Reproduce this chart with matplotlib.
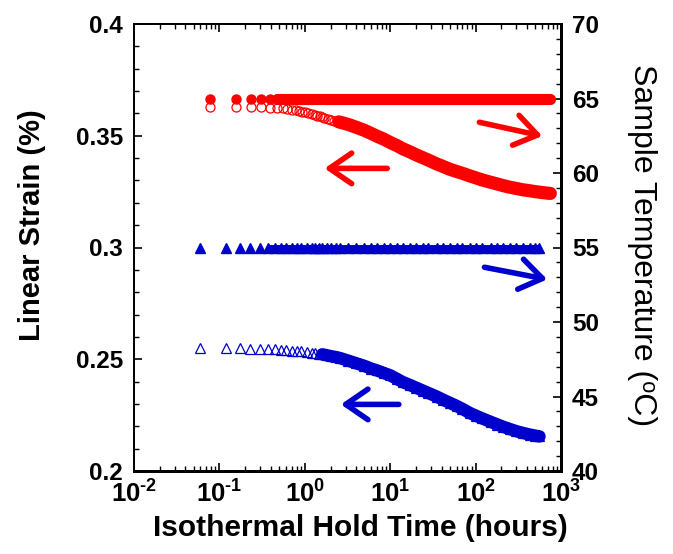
import math
import matplotlib
matplotlib.use("Agg")
import matplotlib.pyplot as plt
from matplotlib.ticker import FixedLocator, MultipleLocator, LogLocator, FuncFormatter, NullFormatter
from matplotlib.patches import FancyArrowPatch

plt.rcParams['font.family'] = ['Liberation Sans', 'DejaVu Sans']
plt.rcParams['mathtext.fontset'] = 'custom'
plt.rcParams['mathtext.rm'] = 'Liberation Sans:bold'
plt.rcParams['mathtext.bf'] = 'Liberation Sans:bold'

# ---- data ----
red_time = [0.078, 0.155, 0.233, 0.31, 0.39, 0.47, 0.55, 0.62, 0.70, 0.78, 0.86, 0.93, 1.0,
            1.1, 1.2, 1.3, 1.4, 1.5, 1.6, 1.7, 1.85, 2.0, 2.2, 2.5, 2.8, 3.0, 3.5, 4.0, 5.0,
            6.0, 7.0, 8.5, 10, 12, 14, 17, 20, 24, 28, 35, 42, 50, 60, 70, 86, 100, 120, 150,
            180, 210, 250, 300, 360, 430, 500, 600, 700, 750]
red_strain = [0.3629, 0.3629, 0.3628, 0.3627, 0.3626, 0.3624, 0.3622, 0.3620, 0.3617, 0.3614,
              0.3611, 0.3608, 0.3605, 0.3601, 0.3598, 0.3594, 0.3590, 0.3587, 0.3583, 0.3580,
              0.3576, 0.3572, 0.3568, 0.3562, 0.3557, 0.3554, 0.3546, 0.3538, 0.3524, 0.3510,
              0.3498, 0.3484, 0.3470, 0.3456, 0.3442, 0.3428, 0.3415, 0.3402, 0.3391, 0.3374,
              0.3362, 0.3350, 0.3340, 0.3332, 0.3320, 0.3312, 0.3302, 0.3292, 0.3284, 0.3277,
              0.3270, 0.3264, 0.3258, 0.3254, 0.3250, 0.3246, 0.3243, 0.3242]
red_temp = [65.0] * len(red_time)

blue_time = [0.059, 0.119, 0.174, 0.228, 0.298, 0.374, 0.45, 0.52, 0.60, 0.70, 0.80, 0.90,
             1.05, 1.2, 1.3, 1.45, 1.6, 1.8, 2.0, 2.3, 2.6, 3.2, 4.0, 5.0, 6.0, 7.0, 8.5, 10,
             12, 14, 17, 20, 24, 28, 35, 42, 50, 60, 70, 86, 100, 120, 150, 180, 210, 250,
             300, 360, 430, 500, 560]
blue_strain = [0.2552, 0.2550, 0.2549, 0.2548, 0.2547, 0.2546, 0.2544, 0.2543, 0.2541, 0.2539,
               0.2537, 0.2535, 0.2533, 0.2530, 0.2528, 0.2525, 0.2522, 0.2518, 0.2514, 0.2510,
               0.2505, 0.2494, 0.2482, 0.2470, 0.2458, 0.2450, 0.2438, 0.2428, 0.2412, 0.2398,
               0.2385, 0.2373, 0.2360, 0.2349, 0.2333, 0.2318, 0.2305, 0.2291, 0.2278, 0.2259,
               0.2248, 0.2235, 0.2220, 0.2208, 0.2198, 0.2188, 0.2178, 0.2170, 0.2163, 0.2158,
               0.2155]
blue_temp = [55.0] * len(blue_time)

x_ticks = [1e-2, 1e-1, 1e0, 1e1, 1e2, 1e3]
y_left_ticks = [0.2, 0.25, 0.3, 0.35, 0.4]
y_left_labels = ['0.2', '0.25', '0.3', '0.35', '0.4']
y_right_ticks = [40, 45, 50, 55, 60, 65, 70]

RED = '#FF0000'
BLUE = '#0000CC'

fig = plt.figure(figsize=(6.73, 5.54), dpi=100)
ax = fig.add_axes([134/673, 1-471/554, 427/673, 447/554])
ax2 = ax.twinx()

ax.set_xscale('log')
ax.set_xlim(1e-2, 1e3)
ax.set_ylim(0.2, 0.4)
ax2.set_ylim(40, 70)

# bands where measurement points overlap densely
r0 = red_time.index(2.5)
b0 = blue_time.index(1.6)
ax.plot(red_time[r0:], red_strain[r0:], color=RED, lw=9.5, solid_capstyle='round', zorder=2)
ax.plot(blue_time[b0:], blue_strain[b0:], color=BLUE, lw=9, solid_capstyle='round', zorder=2)
ax.plot(red_time, red_strain, ls='none', marker='o', ms=6.5, mfc='none', mec=RED, mew=0.9, zorder=3)
ax.plot(blue_time, blue_strain, ls='none', marker='^', ms=7, mfc='none', mec=BLUE, mew=0.9, zorder=3)

rf0 = red_time.index(0.47)
bf0 = blue_time.index(0.374)
ax2.plot(red_time[rf0:], red_temp[rf0:], color=RED, lw=8, solid_capstyle='round', zorder=2)
ax2.plot(blue_time[bf0:], blue_temp[bf0:], color=BLUE, lw=5, solid_capstyle='butt', zorder=2)
ax2.plot(red_time, red_temp, ls='none', marker='o', ms=6.5, mfc=RED, mec=RED, zorder=3)
ax2.plot(blue_time, blue_temp, ls='none', marker='^', ms=7, mfc=BLUE, mec=BLUE, zorder=3)

# ticks
def xfmt(v, pos):
    e = int(round(math.log10(v)))
    s = ('\u2010%d' % -e) if e < 0 else '%d' % e
    return r'$\mathbf{10^{%s}}$' % s

ax.xaxis.set_major_locator(FixedLocator(x_ticks))
ax.xaxis.set_minor_locator(LogLocator(base=10, subs=range(2, 10), numticks=20))
ax.xaxis.set_major_formatter(FuncFormatter(xfmt))
ax.xaxis.set_minor_formatter(NullFormatter())
ax.set_yticks(y_left_ticks)
ax.set_yticklabels(y_left_labels)
ax.yaxis.set_minor_locator(MultipleLocator(0.01))
ax2.set_yticks(y_right_ticks)
ax2.yaxis.set_minor_locator(MultipleLocator(1))

ax.tick_params(axis='x', which='both', direction='in', top=True, bottom=True, pad=7)
ax.tick_params(axis='x', which='major', labelsize=18.5)
ax.tick_params(axis='y', which='both', direction='in', left=True, right=False, pad=8)
ax.tick_params(axis='y', which='major', labelsize=17.5)
ax.tick_params(which='major', length=6, width=1.2)
ax.tick_params(which='minor', length=3.5, width=1.0)
ax2.tick_params(axis='y', which='both', direction='in', right=True, pad=8)
ax2.tick_params(which='major', length=6, width=1.2, labelsize=17.5)
ax2.tick_params(which='minor', length=3.5, width=1.0)
for lab in ax.get_yticklabels() + ax2.get_yticklabels():
    lab.set_fontweight('bold')

for sp in ['left', 'top']:
    ax.spines[sp].set_linewidth(1.3)
for sp in ['right', 'bottom']:
    ax.spines[sp].set_linewidth(2.0)
    ax2.spines[sp].set_linewidth(2.0)
ax2.spines['left'].set_linewidth(1.3)
ax2.spines['top'].set_linewidth(1.3)

ax.set_xlabel('Isothermal Hold Time (hours)', fontsize=21.5, fontweight='bold')
ax.xaxis.label.set_va('center')
ax.xaxis.set_label_coords(0.529, -0.1275)
ax.set_ylabel('Linear Strain (%)', fontsize=21, fontweight='bold', va='center')
ax.yaxis.set_label_coords(-0.239, 0.55)
ax2.set_ylabel('Sample Temperature (\u1d52C)', fontsize=23, rotation=270, va='center')
ax2.yaxis.set_label_coords(1.19, 0.506)

# arrows (annotations)
def arrow(x0, y0, x1, y1, color):
    a = FancyArrowPatch((x0, y0), (x1, y1), transform=ax.transData,
                        arrowstyle='->,head_length=0.8,head_width=0.55', mutation_scale=20,
                        color=color, lw=4, capstyle='round', joinstyle='round', zorder=5)
    ax.add_patch(a)

arrow(103, 0.3563, 650, 0.3496, RED)
arrow(9.95, 0.3354, 1.58, 0.3354, RED)
arrow(118, 0.2914, 743, 0.2855, BLUE)
arrow(13.6, 0.2298, 2.45, 0.2298, BLUE)

fig.savefig('out.png', dpi=100)
